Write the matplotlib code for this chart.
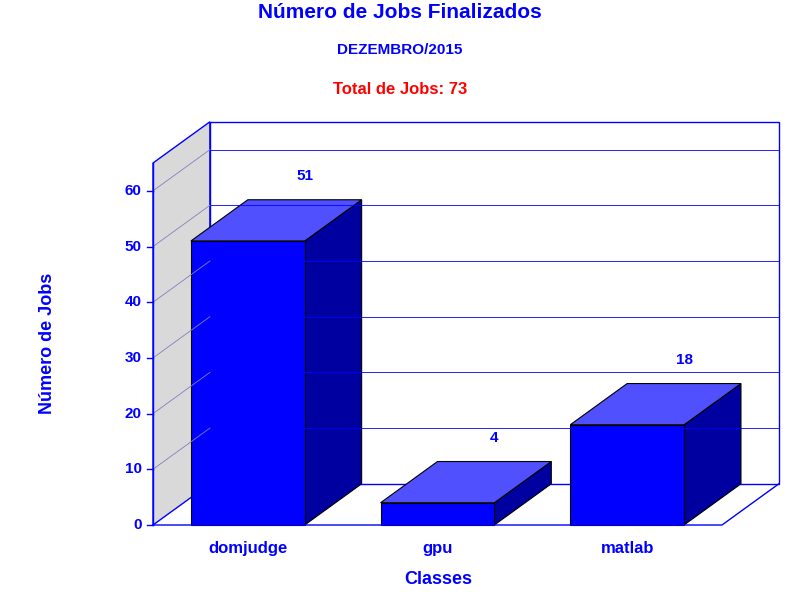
import matplotlib.pyplot as plt
from matplotlib.patches import Polygon, Rectangle

categories = ['domjudge', 'gpu', 'matlab']
jobs = [51, 4, 18]
yticks = [0, 10, 20, 30, 40, 50, 60]
total = 73

plt.rcParams['font.family'] = ['Liberation Sans', 'DejaVu Sans']
blue = '#0000ff'

fig = plt.figure(figsize=(8, 6), dpi=100)
# front plane: x 153..722 px, y 525..163 px
ax = fig.add_axes([153 / 800, 75 / 600, 569 / 800, 362 / 600])
ax.set_xlim(0, 3)
ax.set_ylim(0, 65)
ax.axis('off')

dx, dy = 0.3, 7.4
w = 0.6

# side wall and back wall
ax.add_patch(Polygon([(0, 0), (dx, dy), (dx, 65 + dy), (0, 65)], closed=True,
                     facecolor='#d9d9d9', edgecolor=blue, lw=1, clip_on=False))
ax.add_patch(Rectangle((dx, dy), 3, 65, facecolor='white', edgecolor=blue,
                       lw=1, clip_on=False))
for v in yticks[1:]:
    ax.plot([dx, 3 + dx], [v + dy, v + dy], color=blue, lw=0.6, clip_on=False)
    ax.plot([0, dx], [v, v + dy], color='#8080c0', lw=0.6, clip_on=False)
# floor
ax.plot([0, 3, 3 + dx], [0, 0, dy], color=blue, lw=1, clip_on=False)
ax.plot([0, 0], [0, 65], color=blue, lw=1, clip_on=False)
for v in yticks:
    ax.plot([-0.03, 0], [v, v], color=blue, lw=1, clip_on=False)
    ax.text(-0.06, v, str(v), ha='right', va='center', color=blue,
            fontsize=11, fontweight='bold')

for i, (c, v) in enumerate(zip(categories, jobs)):
    x0 = i + 0.5 - w / 2
    x1 = x0 + w
    ax.add_patch(Polygon([(x1, 0), (x1 + dx, dy), (x1 + dx, v + dy), (x1, v)],
                         closed=True, facecolor='#0000a0', edgecolor='black',
                         lw=0.8, clip_on=False))
    ax.add_patch(Polygon([(x0, v), (x0 + dx, v + dy), (x1 + dx, v + dy), (x1, v)],
                         closed=True, facecolor='#5050ff', edgecolor='black',
                         lw=0.8, clip_on=False))
    ax.add_patch(Rectangle((x0, 0), w, v, facecolor=blue, edgecolor='black',
                           lw=0.8, clip_on=False))
    ax.text(i + 0.5 + dx, v + dy + 4.2, str(v), ha='center', va='center',
            color=blue, fontsize=11, fontweight='bold')
    ax.text(i + 0.5, -4.2, c, ha='center', va='center', color=blue,
            fontsize=12, fontweight='bold')

fig.text(400 / 800, 1 - 12 / 600, 'Número de Jobs Finalizados', ha='center',
         va='center', color=blue, fontsize=15, fontweight='bold')
fig.text(400 / 800, 1 - 50 / 600, 'DEZEMBRO/2015', ha='center', va='center',
         color=blue, fontsize=11, fontweight='bold')
fig.text(400 / 800, 1 - 90 / 600, 'Total de Jobs: %d' % total, ha='center',
         va='center', color='red', fontsize=12, fontweight='bold')
fig.text(438 / 800, 1 - 580 / 600, 'Classes', ha='center', va='center',
         color=blue, fontsize=13, fontweight='bold')
fig.text(48 / 800, 1 - 343 / 600, 'Número de Jobs', ha='center', va='center',
         rotation=90, color=blue, fontsize=13, fontweight='bold')

fig.savefig('out.png', dpi=100)
